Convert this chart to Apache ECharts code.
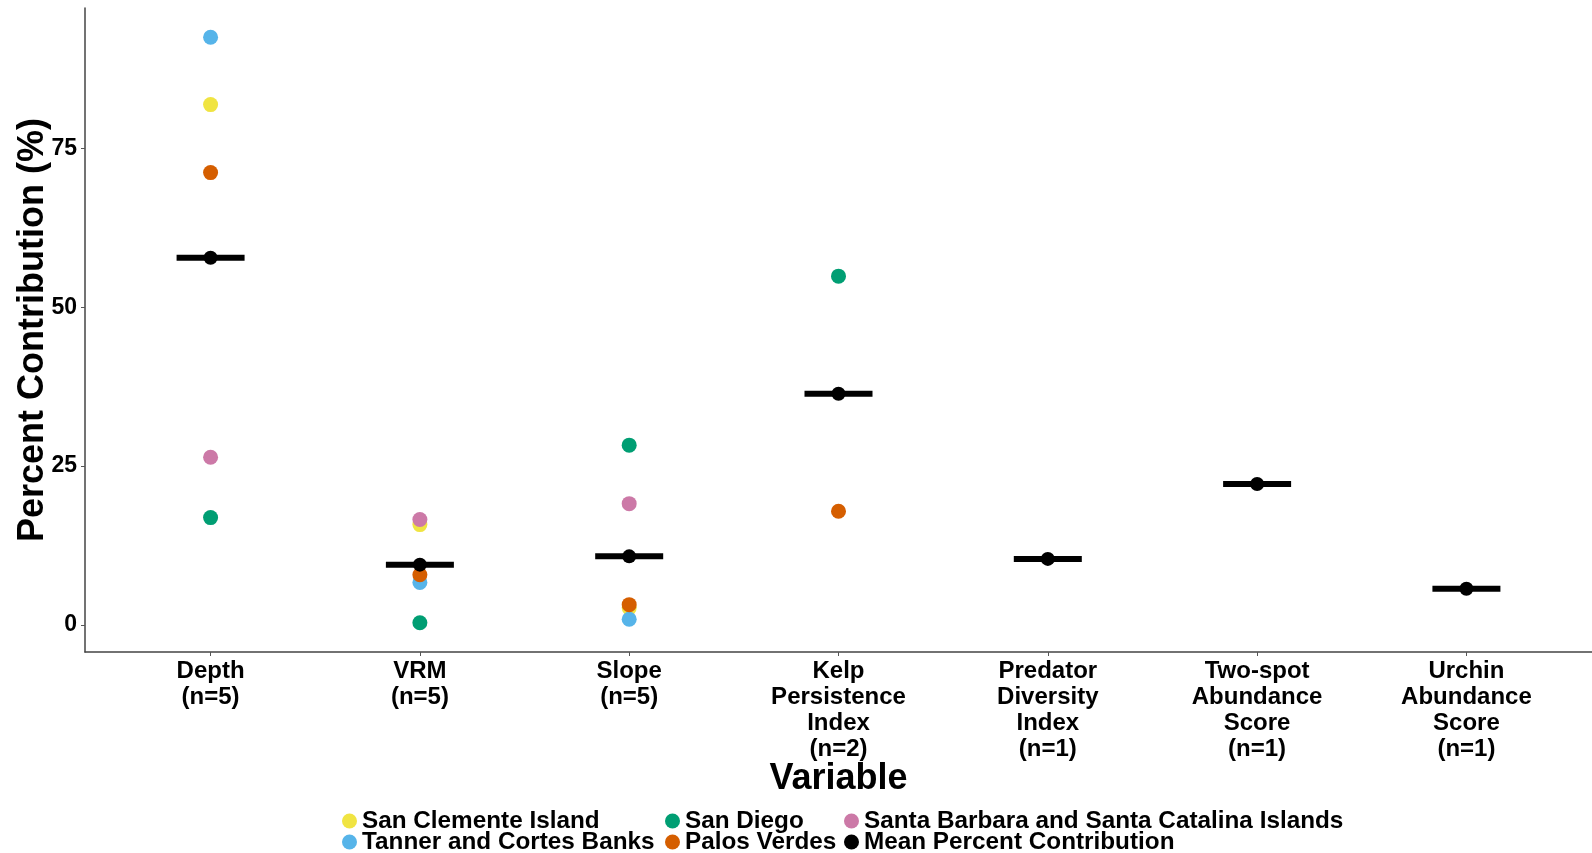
<!DOCTYPE html>
<html>
<head>
<meta charset="utf-8">
<script src="https://cdn.jsdelivr.net/npm/echarts@6/dist/echarts.min.js"></script>
<style>
html,body{margin:0;padding:0;background:#fff;}
#chart{width:1592px;height:853px;}
</style>
</head>
<body>
<div id="chart"></div>
<script>
// ---- data ----
const categories = [
  'Depth\n(n=5)',
  'VRM\n(n=5)',
  'Slope\n(n=5)',
  'Kelp\nPersistence\nIndex\n(n=2)',
  'Predator\nDiversity\nIndex\n(n=1)',
  'Two-spot\nAbundance\nScore\n(n=1)',
  'Urchin\nAbundance\nScore\n(n=1)'
];
const yTicks = [0, 25, 50, 75];
const sanClemente  = [81.9, 15.8, 2.7, null, null, null, null];
const tannerCortes = [92.5, 6.7, 0.9, null, null, null, null];
const sanDiego     = [16.9, 0.35, 28.3, 54.9, null, null, null];
const santaBarbara = [26.4, 16.6, 19.1, null, null, null, null];
const palosVerdes  = [71.2, 7.9, 3.2, 17.9, null, null, null];
const meanContribution = [57.8, 9.5, 10.8, 36.4, 10.4, 22.2, 5.7];

const siteSeries = [
  {name: 'San Clemente Island', values: sanClemente, color: '#F0E442'},
  {name: 'Tanner and Cortes Banks', values: tannerCortes, color: '#56B4E9'},
  {name: 'San Diego', values: sanDiego, color: '#009E73'},
  {name: 'Santa Barbara and Santa Catalina Islands', values: santaBarbara, color: '#CC79A7'},
  {name: 'Palos Verdes', values: palosVerdes, color: '#D55E00'}
];

function toPoints(vals) {
  const out = [];
  vals.forEach((v, i) => { if (v !== null) out.push([i + 1, v]); });
  return out;
}

const FONT = '"Liberation Sans", Arial, sans-serif';
const catIdx = categories.map((c, i) => i + 1);

const series = siteSeries.map(s => ({
  name: s.name,
  type: 'scatter',
  symbol: 'circle',
  symbolSize: 15,
  itemStyle: {color: s.color, opacity: 1},
  emphasis: {disabled: true},
  data: toPoints(s.values),
  z: 2
}));
series.push({
  name: 'crossbar',
  type: 'scatter',
  symbol: 'rect',
  symbolSize: [68, 6],
  itemStyle: {color: '#000', opacity: 1},
  emphasis: {disabled: true},
  data: toPoints(meanContribution),
  z: 3
});
series.push({
  name: 'Mean Percent Contribution',
  type: 'scatter',
  symbol: 'circle',
  symbolSize: 14,
  itemStyle: {color: '#000', opacity: 1},
  emphasis: {disabled: true},
  data: toPoints(meanContribution),
  z: 4
});

const legendLayout = [
  {name: 'San Clemente Island', left: 342, top: 809},
  {name: 'San Diego', left: 665, top: 809},
  {name: 'Santa Barbara and Santa Catalina Islands', left: 844, top: 809},
  {name: 'Tanner and Cortes Banks', left: 342, top: 830},
  {name: 'Palos Verdes', left: 665, top: 830},
  {name: 'Mean Percent Contribution', left: 844, top: 830}
];
const legends = legendLayout.map(l => ({
  data: [l.name],
  left: l.left,
  top: l.top,
  padding: 0,
  icon: 'circle',
  itemWidth: 15,
  itemHeight: 15,
  selectedMode: false,
  itemStyle: {opacity: 1},
  textStyle: {fontFamily: FONT, fontWeight: 'bold', fontSize: 24.3, color: '#000'}
}));

const chart = echarts.init(document.getElementById('chart'), null, {renderer: 'canvas'});
chart.setOption({
  animation: false,
  backgroundColor: '#fff',
  grid: {left: 85, right: 0, top: 8, bottom: 201, containLabel: false},
  legend: legends,
  xAxis: {
    type: 'value',
    min: 0.4,
    max: 7.6,
    splitLine: {show: false},
    axisLine: {show: true, onZero: false, lineStyle: {color: '#444', width: 1.5}},
    axisTick: {show: true, length: 4, customValues: catIdx, lineStyle: {color: '#555', width: 1}},
    axisLabel: {
      customValues: catIdx,
      margin: 6,
      formatter: v => categories[Math.round(v) - 1] || '',
      fontFamily: FONT, fontWeight: 'bold', fontSize: 24, lineHeight: 26, color: '#000'
    },
    name: 'Variable',
    nameLocation: 'middle',
    nameGap: 109,
    nameMoveOverlap: false,
    nameTextStyle: {fontFamily: FONT, fontWeight: 'bold', fontSize: 36, color: '#000'}
  },
  yAxis: {
    type: 'value',
    min: -4.25,
    max: 97.1,
    splitLine: {show: false},
    axisLine: {show: true, onZero: false, lineStyle: {color: '#444', width: 1.5}},
    axisTick: {show: true, length: 4, customValues: yTicks, lineStyle: {color: '#555', width: 1}},
    axisLabel: {
      customValues: yTicks,
      margin: 8,
      fontFamily: FONT, fontWeight: 'bold', fontSize: 23, color: '#000'
    },
    name: 'Percent Contribution (%)',
    nameLocation: 'middle',
    nameGap: 34,
    nameMoveOverlap: false,
    nameTextStyle: {fontFamily: FONT, fontWeight: 'bold', fontSize: 36, color: '#000'}
  },
  series: series
});
</script>
</body>
</html>
